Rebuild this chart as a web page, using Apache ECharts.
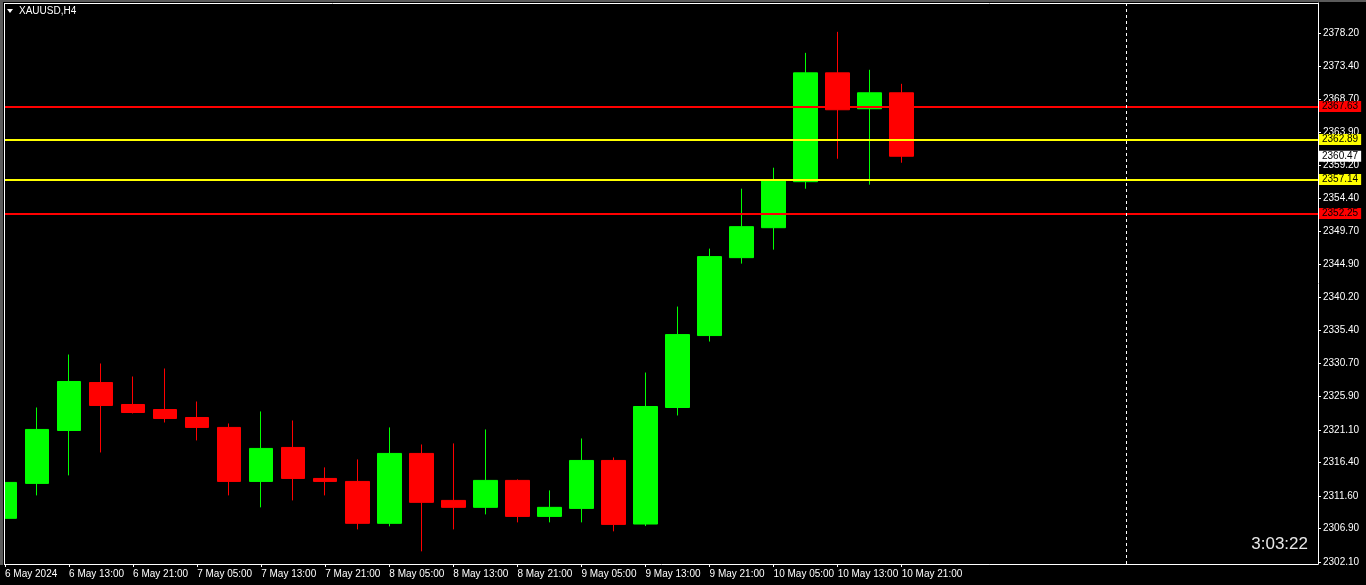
<!DOCTYPE html>
<html>
<head>
<meta charset="utf-8">
<title>XAUUSD,H4</title>
<script src="https://cdn.jsdelivr.net/npm/echarts@6/dist/echarts.min.js"></script>
<style>
  html, body { margin: 0; padding: 0; background: #000; }
  #chart { width: 1366px; height: 585px; }
</style>
</head>
<body>
<div id="chart"></div>
<script>
// bar times (H4), first one shown with the year like the terminal does
var barTimes = [
  '6 May 2024', '6 May 09:00', '6 May 13:00', '6 May 17:00', '6 May 21:00',
  '7 May 01:00', '7 May 05:00', '7 May 09:00', '7 May 13:00', '7 May 17:00',
  '7 May 21:00', '8 May 01:00', '8 May 05:00', '8 May 09:00', '8 May 13:00',
  '8 May 17:00', '8 May 21:00', '9 May 01:00', '9 May 05:00', '9 May 09:00',
  '9 May 13:00', '9 May 17:00', '9 May 21:00', '10 May 01:00', '10 May 05:00',
  '10 May 09:00', '10 May 13:00', '10 May 17:00', '10 May 21:00'
];
var emptySlots = 13; // blank space right of the last bar

var opens  = [2308.37, 2313.40, 2321.01, 2327.91, 2324.75, 2324.03, 2322.88, 2321.45, 2313.68, 2318.57,
              2314.11, 2313.68, 2307.65, 2317.71, 2310.95, 2309.95, 2313.83, 2308.65, 2309.80, 2316.70,
              2307.55, 2324.32, 2334.67, 2345.88, 2350.19, 2356.81, 2372.47, 2367.30, 2369.60];
var closes = [2313.54, 2321.16, 2328.06, 2324.61, 2323.60, 2322.74, 2321.45, 2313.68, 2318.43, 2314.11,
              2313.68, 2307.65, 2317.71, 2310.67, 2309.95, 2313.83, 2308.65, 2309.95, 2316.70, 2307.50,
              2324.46, 2334.81, 2346.03, 2350.34, 2357.09, 2372.47, 2367.16, 2369.60, 2360.47];
var lows   = [2307.55, 2311.67, 2314.55, 2317.85, 2323.46, 2322.16, 2319.58, 2311.67, 2309.95, 2310.95,
              2311.67, 2306.78, 2307.22, 2303.62, 2306.78, 2308.94, 2307.79, 2307.79, 2307.79, 2306.50,
              2307.26, 2323.17, 2333.81, 2345.02, 2347.03, 2355.80, 2360.11, 2356.38, 2359.54];
var highs  = [2315.41, 2324.32, 2331.94, 2330.65, 2328.78, 2329.93, 2325.18, 2322.02, 2323.75, 2322.45,
              2315.70, 2316.85, 2321.45, 2319.00, 2319.15, 2321.16, 2313.97, 2312.39, 2319.86, 2317.13,
              2329.35, 2338.84, 2347.18, 2355.80, 2358.82, 2375.35, 2378.37, 2372.91, 2370.89];

var priceTicks = [2302.10, 2306.90, 2311.60, 2316.40, 2321.10, 2325.90, 2330.70, 2335.40, 2340.20,
                  2344.90, 2349.70, 2354.40, 2359.20, 2363.90, 2368.70, 2373.40, 2378.20];

var redLevels = [2367.63, 2352.25];
var yellowLevels = [2362.89, 2357.14];
var bidPrice = 2360.47;
var separatorIndex = 35;
var timerText = '3:03:22';
var symbolTitle = 'XAUUSD,H4';

var categories = barTimes.slice();
for (var i = 0; i < emptySlots; i++) categories.push('');

var candles = opens.map(function (o, i) {
  return [o, closes[i], lows[i], highs[i]];
});

var FONT = 'Liberation Sans';

function levelLine(value, lineColor, boxColor, width) {
  return {
    yAxis: value,
    lineStyle: { color: lineColor, width: width, type: 'solid' },
    label: {
      show: true,
      position: 'end',
      distance: 1,
      formatter: value.toFixed(2),
      color: '#000',
      backgroundColor: boxColor,
      fontFamily: FONT,
      fontSize: 10,
      lineHeight: 11,
      padding: [0, 3, 0, 3]
    }
  };
}

var markData = [];
redLevels.forEach(function (v) { markData.push(levelLine(v, '#ff0000', '#ff0000', 2)); });
yellowLevels.forEach(function (v) { markData.push(levelLine(v, '#ffff00', '#ffff00', 2)); });
// bid price: label only, no visible line
markData.push(levelLine(bidPrice, 'rgba(0,0,0,0)', '#ffffff', 1));
markData.push({
  xAxis: separatorIndex,
  lineStyle: { color: '#ffffff', width: 1, type: [3, 3] },
  label: { show: false }
});

var chart = echarts.init(document.getElementById('chart'));
chart.setOption({
  animation: false,
  backgroundColor: '#000',
  grid: {
    left: 5, top: 3, right: 48, bottom: 21,
    show: false
  },
  xAxis: {
    type: 'category',
    data: categories,
    boundaryGap: false,
    axisLine: { lineStyle: { color: '#ffffff', width: 1 } },
    axisTick: {
      length: 3,
      lineStyle: { color: '#ffffff' },
      interval: function (idx, val) { return idx % 2 === 0 && val !== ''; }
    },
    axisLabel: {
      color: '#ffffff',
      fontFamily: FONT,
      fontSize: 10,
      align: 'left',
      verticalAlign: 'top',
      margin: 5,
      interval: function (idx, val) { return idx % 2 === 0 && val !== ''; }
    },
    splitLine: { show: false }
  },
  yAxis: {
    type: 'value',
    position: 'right',
    min: 2301.80,
    max: 2382.52,
    axisLine: { show: true, lineStyle: { color: '#ffffff', width: 1 } },
    axisTick: {
      show: true,
      length: 3,
      lineStyle: { color: '#ffffff' },
      customValues: priceTicks
    },
    axisLabel: {
      color: '#ffffff',
      fontFamily: FONT,
      fontSize: 10,
      margin: 5,
      customValues: priceTicks,
      formatter: function (v) { return v.toFixed(2); }
    },
    splitLine: { show: false }
  },
  series: [{
    type: 'candlestick',
    data: candles,
    clip: true,
    barWidth: 24,
    itemStyle: {
      color: '#00ff00',
      color0: '#ff0000',
      borderColor: '#00ff00',
      borderColor0: '#ff0000',
      borderWidth: 1
    },
    markLine: {
      silent: true,
      symbol: ['none', 'none'],
      animation: false,
      data: markData
    }
  }],
  graphic: [
    // window frame: cover what spills past the left edge, then draw the border
    { type: 'rect', z: 100, left: 0, top: 0, shape: { width: 4, height: 565 }, style: { fill: '#000' } },
    { type: 'rect', z: 101, left: 0, top: 0, shape: { width: 1366, height: 2 }, style: { fill: '#5a5a5a' } },
    { type: 'rect', z: 101, left: 0, top: 0, shape: { width: 3, height: 565 }, style: { fill: '#5a5a5a' } },
    { type: 'line', z: 102, shape: { x1: 4.5, y1: 3, x2: 4.5, y2: 565 }, style: { stroke: '#ffffff', lineWidth: 1 } },
    { type: 'line', z: 102, shape: { x1: 4, y1: 3.5, x2: 1318, y2: 3.5 }, style: { stroke: '#ffffff', lineWidth: 1 } },
    {
      type: 'polygon', z: 102,
      shape: { points: [[7, 9], [13, 9], [10, 13]] },
      style: { fill: '#ffffff' }
    },
    {
      type: 'text', z: 102,
      left: 19, top: 6,
      style: { text: symbolTitle, fill: '#ffffff', font: '10px "Liberation Sans"' }
    },
    {
      type: 'text', z: 102,
      right: 58, top: 536,
      style: { text: timerText, fill: '#e8e8e8', font: '17px "Liberation Sans"' }
    }
  ]
});
</script>
</body>
</html>
